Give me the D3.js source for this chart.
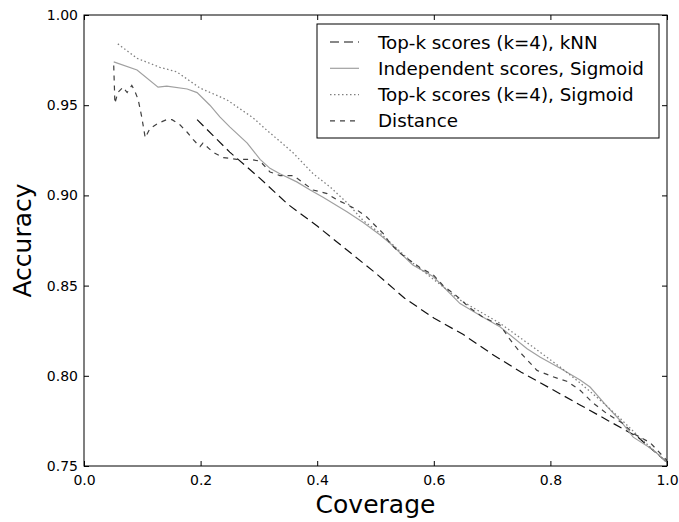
<!DOCTYPE html>
<html>
<head>
<meta charset="utf-8">
<script src="https://cdn.jsdelivr.net/npm/d3@7"></script>
<style>
  body { margin: 0; background: #fff; }
  text { font-family: "DejaVu Sans", sans-serif; fill: #000; }
</style>
</head>
<body>
<div id="chart"></div>
<script>
// series data (coverage, accuracy)
var knnX = [0.194, 0.25, 0.3, 0.35, 0.4, 0.45, 0.5, 0.55, 0.6, 0.65, 0.7, 0.75, 0.8, 0.85, 0.9, 0.95, 1.0];
var knnY = [0.942, 0.924, 0.910, 0.895, 0.883, 0.870, 0.857, 0.843, 0.832, 0.823, 0.812, 0.802, 0.793, 0.784, 0.775, 0.766, 0.752];

var indepX = [0.051, 0.091, 0.127, 0.142, 0.177, 0.194, 0.216, 0.233, 0.25, 0.28, 0.302, 0.319, 0.336, 0.365, 0.388, 0.41, 0.451, 0.479, 0.508, 0.525, 0.564, 0.599, 0.645, 0.684, 0.714, 0.76, 0.782, 0.816, 0.851, 0.868, 0.897, 0.919, 0.942, 0.976, 1.0];
var indepY = [0.974, 0.9695, 0.960, 0.9606, 0.959, 0.957, 0.950, 0.9435, 0.938, 0.929, 0.920, 0.915, 0.912, 0.9075, 0.903, 0.899, 0.891, 0.885, 0.878, 0.8735, 0.8614, 0.855, 0.840, 0.8326, 0.827, 0.815, 0.8104, 0.8043, 0.7977, 0.7938, 0.783, 0.7755, 0.766, 0.759, 0.752];

var sigX = [0.058, 0.091, 0.130, 0.159, 0.199, 0.245, 0.29, 0.314, 0.336, 0.359, 0.393, 0.422, 0.451, 0.479, 0.508, 0.525, 0.564, 0.645, 0.714, 0.77, 0.816, 0.851, 0.885, 0.919, 0.954, 1.0];
var sigY = [0.984, 0.976, 0.971, 0.9685, 0.9595, 0.953, 0.943, 0.936, 0.930, 0.9235, 0.912, 0.9047, 0.896, 0.886, 0.879, 0.874, 0.8625, 0.842, 0.829, 0.816, 0.805, 0.796, 0.7866, 0.7766, 0.7655, 0.752];

var distX = [0.051, 0.053, 0.058, 0.067, 0.074, 0.082, 0.087, 0.093, 0.099, 0.105, 0.113, 0.127, 0.142, 0.151, 0.165, 0.177, 0.187, 0.199, 0.204, 0.221, 0.238, 0.262, 0.285, 0.302, 0.319, 0.336, 0.359, 0.376, 0.393, 0.417, 0.434, 0.451, 0.468, 0.485, 0.502, 0.513, 0.525, 0.542, 0.576, 0.599, 0.616, 0.64, 0.662, 0.684, 0.714, 0.731, 0.748, 0.777, 0.804, 0.828, 0.851, 0.873, 0.897, 0.925, 0.942, 0.971, 1.0];
var distY = [0.972, 0.951, 0.957, 0.960, 0.957, 0.961, 0.958, 0.953, 0.9435, 0.932, 0.937, 0.940, 0.942, 0.942, 0.939, 0.935, 0.931, 0.927, 0.929, 0.924, 0.921, 0.920, 0.920, 0.919, 0.913, 0.911, 0.911, 0.907, 0.903, 0.901, 0.8975, 0.895, 0.892, 0.888, 0.8825, 0.879, 0.8735, 0.868, 0.860, 0.856, 0.850, 0.844, 0.8376, 0.8326, 0.828, 0.820, 0.813, 0.803, 0.7995, 0.797, 0.792, 0.785, 0.779, 0.7735, 0.768, 0.763, 0.753];

var seriesNames = ["Top-k scores (k=4), kNN", "Independent scores, Sigmoid", "Top-k scores (k=4), Sigmoid", "Distance"];
var xTicks = [0.0, 0.2, 0.4, 0.6, 0.8, 1.0];
var yTicks = [0.75, 0.80, 0.85, 0.90, 0.95, 1.00];

var width = 679, height = 522;
var margin = {left: 84, top: 15, right: 12, bottom: 56};
var pw = width - margin.left - margin.right,
    ph = height - margin.top - margin.bottom;

var svg = d3.select("#chart").append("svg").attr("width", width).attr("height", height);
var g = svg.append("g").attr("transform", "translate(" + margin.left + "," + margin.top + ")");

var x = d3.scaleLinear().domain([0, 1]).range([0, pw]);
var y = d3.scaleLinear().domain([0.75, 1.0]).range([ph, 0]);

var series = [
    {name: seriesNames[0], xs: knnX, ys: knnY, color: "#111", dash: "9,5", w: 1.2},
    {name: seriesNames[1], xs: indepX, ys: indepY, color: "#a0a0a0", dash: null, w: 1.2},
    {name: seriesNames[2], xs: sigX, ys: sigY, color: "#808080", dash: "1.5,2.5", w: 1.3},
    {name: seriesNames[3], xs: distX, ys: distY, color: "#404040", dash: "5,5", w: 1.2}
];

var line = d3.line().x(function (d) { return x(d[0]); }).y(function (d) { return y(d[1]); });

g.append("clipPath").attr("id", "clip").append("rect").attr("width", pw).attr("height", ph);

series.forEach(function (s) {
    var pts = s.xs.map(function (v, i) { return [v, s.ys[i]]; });
    g.append("path")
        .attr("clip-path", "url(#clip)")
        .attr("d", line(pts))
        .attr("fill", "none")
        .attr("stroke", s.color)
        .attr("stroke-width", s.w)
        .attr("stroke-dasharray", s.dash);
});

// axes with inward ticks on all four sides
var fmtX = d3.format(".1f"), fmtY = d3.format(".2f");
var axBottom = g.append("g").attr("transform", "translate(0," + ph + ")")
    .call(d3.axisBottom(x).tickValues(xTicks).tickSizeInner(-5).tickSizeOuter(0).tickPadding(9).tickFormat(fmtX));
var axTop = g.append("g")
    .call(d3.axisTop(x).tickValues(xTicks).tickSizeInner(-5).tickSizeOuter(0).tickFormat(""));
var axLeft = g.append("g")
    .call(d3.axisLeft(y).tickValues(yTicks).tickSizeInner(-5).tickSizeOuter(0).tickPadding(6).tickFormat(fmtY));
var axRight = g.append("g").attr("transform", "translate(" + pw + ",0)")
    .call(d3.axisRight(y).tickValues(yTicks).tickSizeInner(-5).tickSizeOuter(0).tickFormat(""));

[axBottom, axTop, axLeft, axRight].forEach(function (a) {
    a.select(".domain").remove();
    a.selectAll(".tick line").attr("stroke", "#000").attr("stroke-width", 1);
    a.selectAll("text").attr("font-family", "DejaVu Sans").attr("font-size", 14).attr("fill", "#000");
});

g.append("rect").attr("width", pw).attr("height", ph)
    .attr("fill", "none").attr("stroke", "#000").attr("stroke-width", 1);

svg.append("text")
    .attr("x", margin.left + pw / 2).attr("y", 513)
    .attr("text-anchor", "middle").attr("font-size", 25)
    .text("Coverage");

svg.append("text")
    .attr("transform", "translate(31," + (margin.top + ph / 2) + ") rotate(-90)")
    .attr("text-anchor", "middle").attr("font-size", 25)
    .text("Accuracy");

// legend
var lg = svg.append("g").attr("transform", "translate(317,24)");
lg.append("rect").attr("width", 342).attr("height", 114)
    .attr("fill", "#fff").attr("stroke", "#000").attr("stroke-width", 1);
var rows = lg.selectAll("g.row").data(series).enter().append("g")
    .attr("transform", function (d, i) { return "translate(0," + (18 + i * 26.3) + ")"; });
rows.append("line")
    .attr("x1", 13).attr("x2", 42).attr("y1", 0).attr("y2", 0)
    .attr("stroke", function (d) { return d.color; })
    .attr("stroke-width", function (d) { return d.w; })
    .attr("stroke-dasharray", function (d) { return d.dash; });
rows.append("text")
    .attr("x", 61).attr("y", 6.5)
    .attr("font-size", 18.3)
    .text(function (d) { return d.name; });
</script>
</body>
</html>
